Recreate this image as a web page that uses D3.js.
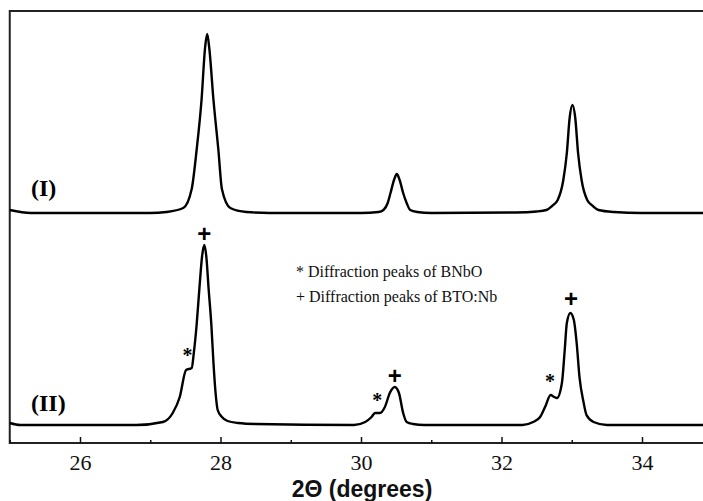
<!DOCTYPE html>
<html>
<head>
<meta charset="utf-8">
<script src="https://cdn.jsdelivr.net/npm/d3@7"></script>
<style>
  body { margin: 0; background: #fff; }
  svg { display: block; }
</style>
</head>
<body>
<svg id="chart" width="703" height="501"></svg>
<script>
// 2theta (deg) / intensity (a.u., offset already applied)
var angleI = [25.0, 25.3, 27.0, 27.23, 27.47, 27.59, 27.66, 27.73, 27.78, 27.81, 27.84, 27.90, 27.97, 28.02, 28.14, 28.37, 28.7,
  30.0, 30.25, 30.32, 30.38, 30.42, 30.47, 30.51, 30.55, 30.60, 30.65, 30.70, 30.8, 31.0,
  32.2, 32.5, 32.64, 32.72, 32.80, 32.88, 32.93, 32.97, 33.01, 33.05, 33.09, 33.14, 33.22, 33.30, 33.38, 33.6, 34.0, 35.0];
var intensityI = [233, 230, 230, 231, 235, 254, 293, 343, 395, 409, 395, 343, 293, 254, 235, 231, 230,
  230, 231, 233, 240, 250, 263, 269, 263, 250, 240, 233, 231, 230,
  230.5, 231.5, 233, 237, 243, 263, 290, 325, 338, 325, 290, 263, 243, 237, 233, 231, 230, 230];

var angleII = [25.0, 25.15, 26.8, 27.18, 27.32, 27.42, 27.51, 27.59, 27.62, 27.66, 27.70, 27.74, 27.77, 27.80, 27.83, 27.87, 27.90, 27.93, 27.96, 28.02, 28.1, 28.25, 28.5,
  29.9, 30.06, 30.15, 30.20, 30.27, 30.34, 30.41, 30.48, 30.54, 30.60, 30.65, 30.74, 30.9,
  32.3, 32.45, 32.55, 32.62, 32.70, 32.75, 32.79, 32.86, 32.90, 32.93, 32.98, 33.03, 33.07, 33.11, 33.17, 33.21, 33.31, 33.5, 35.0];
var intensityII = [20, 18, 18, 21, 30, 46, 73, 75, 90, 118, 155, 188, 198, 185, 155, 118, 80, 50, 33, 26, 22, 20, 19,
  18, 21, 26, 30, 30, 36, 50, 56, 50, 30, 21, 19, 18,
  18, 21, 26, 36, 48, 46, 45, 60, 93, 120, 130, 123, 100, 66, 40, 28, 21, 18, 18];

// peak markers: angle, intensity of the mark, symbol
var markAngles = [27.77, 30.48, 32.99, 27.53, 30.23, 32.69];
var markLevels = [210, 68, 145, 96, 51, 70];
var markSymbols = ['+', '+', '+', '*', '*', '*'];

var xTicks = [26, 28, 30, 32, 34];
var xMinorTicks = [25, 27, 29, 31, 33, 35];
var legendLines = ['* Diffraction peaks of BNbO', '+ Diffraction peaks of BTO:Nb'];
var curveLabels = ['(I)', '(II)'];

var serif = '"Liberation Serif", "Times New Roman", Times, serif';
var sans = '"Liberation Sans", Arial, Helvetica, sans-serif';

var svg = d3.select('#chart');
var plotLeft = 9.75, plotTop = 11, plotBottom = 443;

var x = d3.scaleLinear().domain([25, 35]).range([plotLeft, plotLeft + 702.5]);
var y = d3.scaleLinear().domain([0, 432]).range([plotBottom, plotTop]);

// frame (right edge falls outside the picture)
svg.append('rect')
  .attr('x', plotLeft).attr('y', plotTop)
  .attr('width', x(35) - plotLeft).attr('height', plotBottom - plotTop)
  .attr('fill', 'none').attr('stroke', '#222').attr('stroke-width', 2);

// minor ticks
var minorAxis = d3.axisBottom(x).tickValues(xMinorTicks).tickSize(-3).tickFormat('');
var gm = svg.append('g').attr('transform', 'translate(0,' + plotBottom + ')').call(minorAxis);
gm.select('.domain').remove();
gm.selectAll('line').attr('stroke', '#111').attr('stroke-width', 1.5);

var xAxis = d3.axisBottom(x).tickValues(xTicks).tickSize(-6).tickPadding(11).tickFormat(d3.format('d'));
var gx = svg.append('g').attr('transform', 'translate(0,' + plotBottom + ')').call(xAxis);
gx.select('.domain').remove();
gx.selectAll('line').attr('stroke', '#111').attr('stroke-width', 1.5);
gx.selectAll('text')
  .style('font-family', serif).style('font-size', '22px')
  .attr('fill', '#111');

svg.append('text')
  .attr('x', 362).attr('y', 497)
  .attr('text-anchor', 'middle')
  .style('font-family', sans)
  .style('font-weight', 'bold').style('font-size', '23px').attr('fill', '#111')
  .text('2\u0398 (degrees)');

var line = d3.line().x(d => x(d[0])).y(d => y(d[1])).curve(d3.curveMonotoneX);
var plot = svg.append('g');
[[angleI, intensityI], [angleII, intensityII]].forEach(function (s) {
  plot.append('path')
    .datum(d3.zip(s[0], s[1]))
    .attr('d', line)
    .attr('fill', 'none').attr('stroke', '#000').attr('stroke-width', 2.4)
    .attr('stroke-linejoin', 'round');
});

// + / * markers
markAngles.forEach(function (a, i) {
  var plus = markSymbols[i] === '+';
  svg.append('text')
    .attr('x', x(a)).attr('y', y(markLevels[i]))
    .attr('text-anchor', 'middle')
    .attr('dy', plus ? '0.36em' : '0.75em')
    .style('font-family', plus ? sans : serif)
    .style('font-weight', 'bold')
    .style('font-size', plus ? '24px' : '20px')
    .text(markSymbols[i]);
});

// curve labels
svg.append('g').selectAll('text').data(curveLabels).join('text')
  .attr('x', 31).attr('y', (d, i) => i ? 411 : 196)
  .style('font-family', serif)
  .style('font-weight', 'bold').style('font-size', '24px')
  .text(d => d);

svg.append('g').selectAll('text').data(legendLines).join('text')
  .attr('x', 296).attr('y', (d, i) => 277 + i * 25)
  .style('font-family', serif)
  .style('font-size', '16px').attr('fill', '#111')
  .text(d => d);
</script>
</body>
</html>
